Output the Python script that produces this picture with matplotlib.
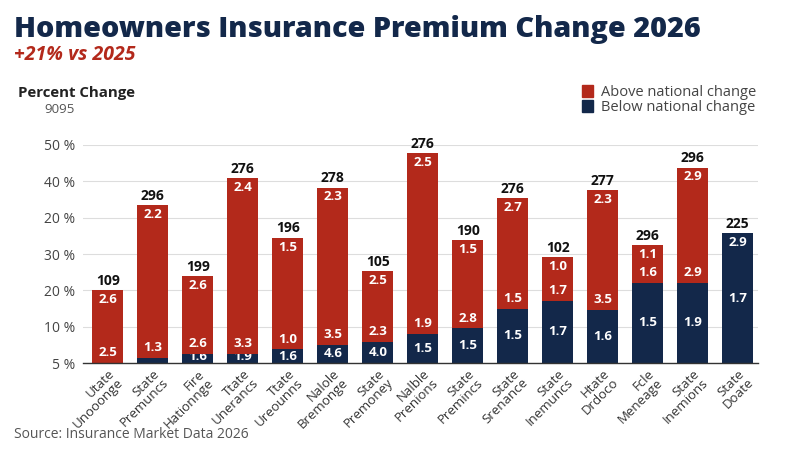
import matplotlib
matplotlib.use("Agg")
import matplotlib.pyplot as plt
from matplotlib.patches import Patch

plt.rcParams['font.family'] = ['Open Sans', 'DejaVu Sans']

categories = ["Utate\nUnooonge", "State\nPremuncs", "Fire\nHationnge", "Ttate\nUnerancs",
              "Ttate\nUreounns", "Nalole\nBremonge", "State\nPremoney", "Nalble\nPrenions",
              "State\nPremincs", "State\nSrenance", "State\nInemuncs", "Htate\nDrdoco",
              "Fcle\nMeneage", "State\nInemions", "State\nDoate"]
below = [0.0, 1.4, 2.5, 2.5, 3.8, 5.0, 5.9, 8.0, 9.5, 14.9, 17.1, 14.7, 22.1, 22.1, 35.7]
totals = [20.1, 43.5, 23.9, 51.0, 34.5, 48.3, 25.4, 57.7, 33.9, 45.3, 29.1, 47.6, 32.5, 53.8, 35.7]
total_labels = ["109", "296", "199", "276", "196", "278", "105", "276", "190", "276", "102", "277", "296", "296", "225"]
top_labels = ["2.6", "2.2", "2.6", "2.4", "1.5", "2.3", "2.5", "2.5", "1.5", "2.7", "1.0", "2.3", "1.1", "2.9", "2.9"]
mid_labels = ["2.5", "1.3", "2.6", "3.3", "1.0", "3.5", "2.3", "1.9", "2.8", "1.5", "1.7", "3.5", "1.6", "2.9", None]
base_labels = [None, None, "1.6", "1.9", "1.6", "4.6", "4.0", "1.5", "1.5", "1.5", "1.7", "1.6", "1.5", "1.9", "1.7"]
ytick_labels = ["5 %", "10 %", "20 %", "30 %", "20 %", "40 %", "50 %"]

above = [t - b for t, b in zip(totals, below)]

RED = "#b3291b"
NAVY = "#13284a"

fig = plt.figure(figsize=(8, 4.5), dpi=100)
ax = fig.add_axes([0.104, 0.1933, 0.8435, 0.4845])

x = list(range(len(categories)))
w = 0.69
ax.bar(x, below, width=w, color=NAVY, zorder=3)
ax.bar(x, above, width=w, bottom=below, color=RED, zorder=4)

ax.set_xlim(-0.55, 14.45)
ax.set_ylim(0, 60)
ax.set_yticks([0, 10, 20, 30, 40, 50, 60])
ax.set_yticklabels(ytick_labels, fontsize=10, color="#444444")
ax.grid(axis="y", color="#dddddd", linewidth=0.8, zorder=0)
ax.tick_params(axis="y", length=0, pad=6)
ax.tick_params(axis="x", length=0, pad=3)
for s in ["top", "right", "left"]:
    ax.spines[s].set_visible(False)
ax.spines["bottom"].set_color("#333333")
ax.spines["bottom"].set_linewidth(1.0)
ax.spines["bottom"].set_zorder(6)

ax.set_xticks(x)
ax.set_xticklabels(categories, rotation=45, ha="right", rotation_mode="anchor",
                   fontsize=9.5, color="#333333", linespacing=0.95)

for i in x:
    ax.text(i, totals[i] + 0.6, total_labels[i], ha="center", va="bottom",
            fontsize=10, fontweight="bold", color="#111111", clip_on=False, zorder=5)
    ax.text(i, totals[i] - 2.6, top_labels[i], ha="center", va="center",
            fontsize=9.5, fontweight="bold", color="white", zorder=5)
    if mid_labels[i] is not None:
        ax.text(i, below[i] + 2.8, mid_labels[i], ha="center", va="center",
                fontsize=9.5, fontweight="bold", color="white", zorder=5)
    if base_labels[i] is not None:
        ax.text(i, max(below[i] / 2, 1.9), base_labels[i], ha="center", va="center",
                fontsize=9.5, fontweight="bold", color="white", zorder=3.5)

fig.text(0.017, 0.918, "Homeowners Insurance Premium Change 2026", fontsize=20.7,
         fontweight="heavy", color="#13284a", ha="left", va="baseline")
fig.text(0.017, 0.866, "+21% vs 2025", fontsize=14, fontweight="bold",
         fontstyle="italic", color="#b3291b", ha="left", va="baseline")
fig.text(0.022, 0.785, "Percent Change", fontsize=10.8, fontweight="bold",
         color="#222222", ha="left", va="baseline")
fig.text(0.056, 0.749, "9095", fontsize=9.5, color="#555555", ha="left", va="baseline")
fig.text(0.017, 0.027, "Source: Insurance Market Data 2026", fontsize=10,
         color="#555555", ha="left", va="baseline")

handles = [Patch(color=RED, label="Above national change"),
           Patch(color=NAVY, label="Below national change")]
fig.legend(handles=handles, loc="upper left", bbox_to_anchor=(0.727, 0.811),
           frameon=False, fontsize=10.5, handlelength=0.8, handleheight=0.8,
           handletextpad=0.5, labelspacing=0.0, labelcolor="#444444",
           borderaxespad=0, borderpad=0)

fig.savefig("out.png", dpi=100)
